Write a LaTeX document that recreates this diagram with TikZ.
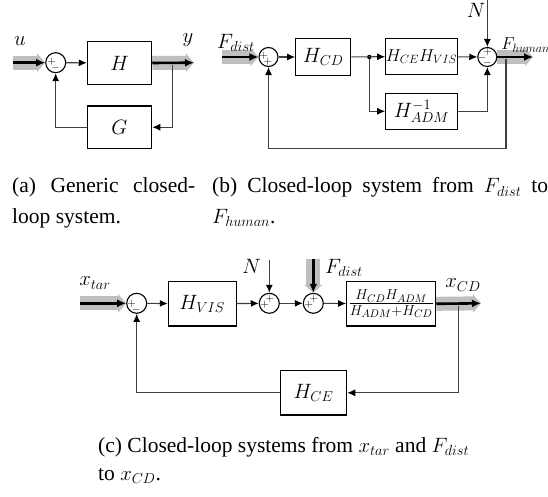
\documentclass[tikz,border=0pt]{standalone}
\usepackage{fontspec}
\setmainfont{Liberation Serif}
\usetikzlibrary{arrows.meta,calc}
\begin{document}
\begin{tikzpicture}[x=1pt,y=-1pt,
  blk/.style={draw=black, line width=1.1pt, inner sep=0pt, font=\fontsize{19.5}{21}\selectfont},
  sumc/.style={draw=black, circle, line width=1.1pt, minimum size=20pt, inner sep=0pt},
  sgn/.style={inner sep=0pt, font=\fontsize{10.5}{12}\selectfont},
  sig/.style={line width=1.1pt, black!75, -{Latex[length=8pt,width=7pt,color=black]}},
  band/.style={line width=14pt, black!25, -{Triangle[length=8pt,width=18pt]}},
  fat/.style={line width=2.6pt, black, -{Latex[length=9pt,width=8pt]}},
  dotn/.style={circle, fill=black, inner sep=0pt, minimum size=4.5pt},
  lab/.style={inner sep=0pt, font=\fontsize{19.5}{21}\selectfont},
  captxt/.style={font=\fontsize{21.5}{30}\selectfont, anchor=base west, inner sep=0pt}
]
\useasboundingbox (0,0) rectangle (548,497);

% ---------------- (a)
\node[sumc] (sa) at (55.7,62.7) {};
\node[sgn] at ($(sa)+(-4,-1)$) {$+$};
\node[sgn] at ($(sa)+(0,5.5)$) {$-$};
\node[blk, minimum width=64.4pt, minimum height=42.6pt] (Ha) at (119.5,63) {$H$};
\node[blk, minimum width=64.4pt, minimum height=42.3pt] (Ga) at (119.5,127.2) {$G$};
\coordinate (ina) at (13,62.7);
\coordinate (outa) at (194,62.7);
\node[dotn] (da) at (172.7,62.7) {};
\draw[band] (ina) -- (sa.west);
\draw[fat] (ina) -- (sa.west);
\draw[sig] (sa) -- (Ha);
\draw[band] (Ha.east) -- (outa);
\draw[fat] (Ha.east) -- (outa);
\draw[sig] (da) |- (Ga);
\draw[sig] (Ga) -| (sa);
\node[lab] (ua) at (20,41) {$u$};
\node[lab] (ya) at (188,40) {$y$};

% ---------------- (b)
\node[sumc, minimum size=19pt] (sb1) at (268.5,57) {};
\node[sgn] at ($(sb1)+(-4.5,-1)$) {$+$};
\node[sgn] at ($(sb1)+(-0.5,5)$) {$+$};
\node[sumc, minimum size=19pt] (sb2) at (487.3,57) {};
\node[sgn] at ($(sb2)+(0,-5)$) {$+$};
\node[sgn] at ($(sb2)+(-5,0.5)$) {$-$};
\node[sgn] at ($(sb2)+(0,6)$) {$-$};
\node[blk, minimum width=55pt, minimum height=37.4pt] (HCD) at (323.2,57) {$H_{CD}$};
\node[blk, minimum width=71.6pt, minimum height=36.5pt, font=\fontsize{18}{20}\selectfont] (HCV) at (421.5,56.6) {$H_{CE}H_{VIS}$};
\node[blk, minimum width=71.6pt, minimum height=36pt] (HAD) at (421.5,111.3) {$H^{-1}_{ADM}$};
\coordinate (inb) at (221.7,57);
\coordinate (outb) at (533,57);
\coordinate (Nb) at (487.3,0);
\coordinate (fbb) at (506,148.3);
\node[dotn] (ds) at (369.3,57) {};
\node[dotn] (db) at (506,57) {};
\draw[band] (inb) -- (sb1.west);
\draw[fat] (inb) -- (sb1.west);
\draw[sig] (sb1) -- (HCD);
\draw[sig] (HCD) -- (HCV);
\draw[sig] (ds) |- (HAD);
\draw[sig] (HCV) -- (sb2);
\draw[sig] (HAD) -| (sb2);
\draw[sig] (Nb) -- (sb2);
\draw[band] (sb2.east) -- (outb);
\draw[fat] (sb2.east) -- (outb);
\draw[sig] (db) -- (fbb) -| (sb1);
\node[lab] (Nlb) at (476,10.5) {$N$};
\node[lab] (Fdb) at (236,43) {$F_{dist}$};
\node[lab, font=\fontsize{18.5}{20}\selectfont] (Fhb) at (525.5,45) {$F_{human}$};

% ---------------- (c)
\node[sumc] (c1) at (136.7,303.3) {};
\node[sgn] at ($(c1)+(-5,0)$) {$+$};
\node[sgn] at ($(c1)+(-0.5,6)$) {$-$};
\node[sumc] (c2) at (269.3,303.3) {};
\node[sgn] at ($(c2)+(0.5,-4.5)$) {$+$};
\node[sgn] at ($(c2)+(-4.5,1.5)$) {$+$};
\node[sumc] (c3) at (313.3,303.3) {};
\node[sgn] at ($(c3)+(0.5,-4.5)$) {$+$};
\node[sgn] at ($(c3)+(-4.5,1.5)$) {$+$};
\node[blk, minimum width=67.7pt, minimum height=44.3pt] (HVc) at (202.2,303.8) {$H_{VIS}$};
\node[blk, minimum width=89pt, minimum height=44.3pt] (Fr) at (391.2,303.8)
  {\fontsize{22.5}{24}\selectfont$\frac{H_{CD}H_{ADM}}{H_{ADM}+H_{CD}}$};
\node[blk, minimum width=66.4pt, minimum height=44.3pt] (HCEc) at (313.5,392.8) {$H_{CE}$};
\coordinate (inc) at (80,303.3);
\coordinate (outc) at (481,303.3);
\coordinate (Nc) at (269.3,260);
\coordinate (Fdc) at (313.3,259);
\node[dotn] (dc) at (458.3,303.3) {};
\draw[band] (inc) -- (c1.west);
\draw[fat] (inc) -- (c1.west);
\draw[sig] (c1) -- (HVc);
\draw[sig] (HVc) -- (c2);
\draw[sig] (Nc) -- (c2);
\draw[sig] (c2) -- (c3);
\draw[band] (Fdc) -- (c3.north);
\draw[fat] (Fdc) -- (c3.north);
\draw[sig] (c3) -- (Fr);
\draw[band] (Fr.east) -- (outc);
\draw[fat] (Fr.east) -- (outc);
\draw[sig] (dc) |- (HCEc);
\draw[sig] (HCEc) -| (c1);
\node[lab] (xtc) at (95,283) {$x_{tar}$};
\node[lab] (Nlc) at (251.7,266) {$N$};
\node[lab] (Fdl) at (344,268) {$F_{dist}$};
\node[lab] (xcd) at (463,285) {$x_{CD}$};

% ---------------- captions
\node[captxt] (capa1) at (12,193) {\makebox[183pt][s]{(a) Generic closed-}};
\node[captxt] (capa2) at (12,223) {loop system.};
\node[captxt] (capb1) at (212,193) {\makebox[336pt][s]{(b) Closed-loop system from $F_{dist}$ to}};
\node[captxt] (capb2) at (212,223) {$F_{human}$.};
\node[captxt] (capc1) at (98,452.7) {(c) Closed-loop systems from $x_{tar}$ and $F_{dist}$};
\node[captxt] (capc2) at (98,480) {to $x_{CD}$.};
\end{tikzpicture}
\end{document}
